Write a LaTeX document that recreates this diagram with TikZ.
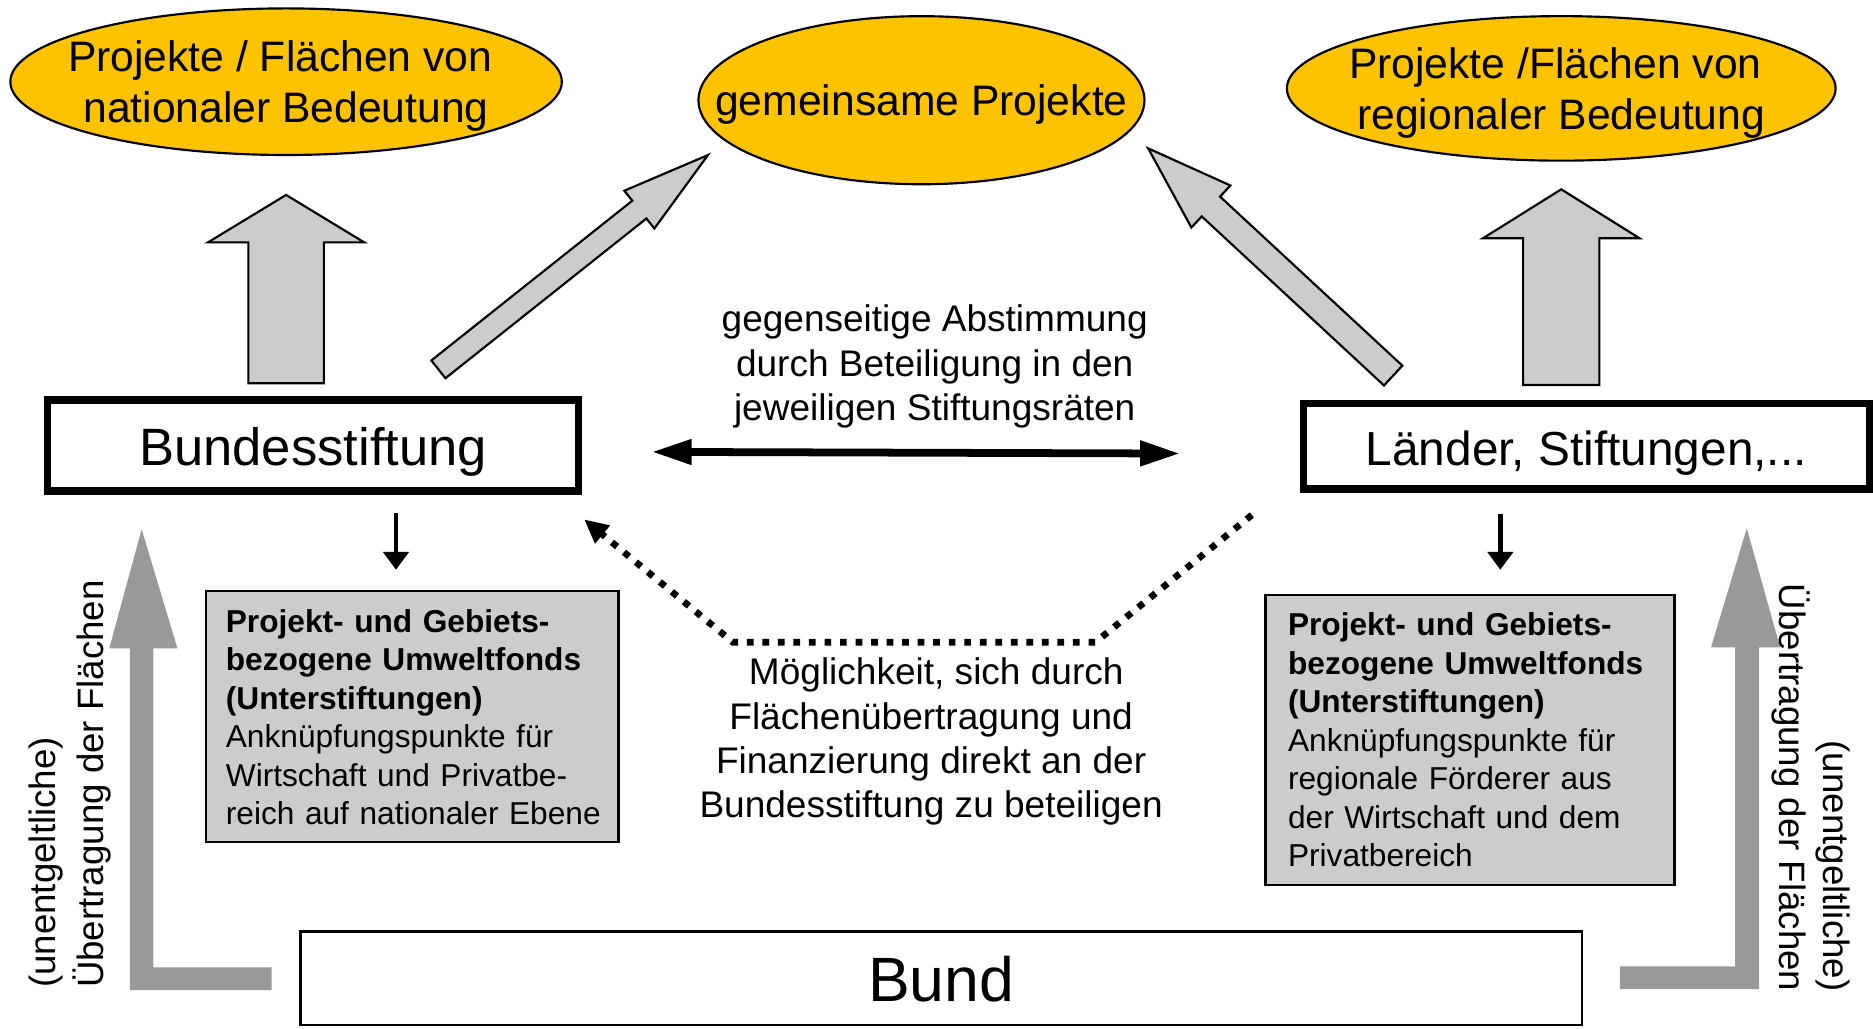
\documentclass[tikz,border=0pt]{standalone}
\usepackage{fontspec}
\setmainfont{Liberation Sans}
\usetikzlibrary{calc,shapes.geometric,arrows.meta}

\definecolor{ellfill}{RGB}{253,194,0}
\definecolor{lightfill}{RGB}{204,204,204}
\definecolor{transfer}{RGB}{153,153,153}

\newcommand\fs[2]{\fontsize{#1}{#2}\selectfont}

% wide outlined arrow from #1 (base) to #2 (tip):
% #3 half shaft width, #4 half head width, #5 head length
\newcommand\blockarrow[5]{%
  \draw[blockarrowstyle]
    ($(#1)!#3!90:(#2)$)
    -- ($($(#2)!#5!(#1)$)!#3!90:(#2)$)
    -- ($($(#2)!#5!(#1)$)!#4!90:(#2)$)
    -- (#2)
    -- ($($(#2)!#5!(#1)$)!#4!-90:(#2)$)
    -- ($($(#2)!#5!(#1)$)!#3!-90:(#2)$)
    -- ($(#1)!#3!-90:(#2)$)
    -- cycle;}

\begin{document}
\begin{tikzpicture}[x=1pt,y=-1pt,
  goal/.style={ellipse, draw=black, line width=1.8pt, fill=ellfill,
    inner xsep=-60pt, inner ysep=-10pt, outer sep=0pt, align=center,
    font=\fs{35.7}{42.9}},
  mainbox/.style={rectangle, draw=black, fill=white, inner sep=0pt, outer sep=0pt},
  fonds/.style={rectangle, draw=black, line width=1.8pt, fill=lightfill,
    inner ysep=0pt, outer sep=0pt, align=left, anchor=north west},
  plain/.style={inner sep=0pt, outer sep=0pt, align=center},
  rotlabel/.style={inner sep=0pt, outer sep=0pt},
  blockarrowstyle/.style={draw=black, line width=1.8pt, fill=lightfill, line join=miter},
  downarrow/.style={line width=4pt, -{Triangle[length=15pt,width=21pt]}},
  mutual/.style={line width=6.5pt,
    {Triangle[length=33.5pt,width=20pt]}-{Triangle[length=33.5pt,width=20pt]}},
  offer/.style={line width=5.6pt, dash pattern=on 5.6pt off 7.4pt,
    -{Triangle[length=20pt,width=18.4pt]}},
]
\fill[white] (0,0) rectangle (1568,861);
\useasboundingbox (0,0) rectangle (1568,861);

% goals
\node[goal, minimum width=461.7pt, minimum height=122.7pt] (nat) at (239.5,68.4)
  {\rule{0pt}{36pt}Projekte / Flächen von\hspace*{.278em}\\nationaler Bedeutung\rule[-9.9pt]{0pt}{0pt}};
\node[goal, minimum width=373.4pt, minimum height=140.7pt] (gem) at (771.4,83.9)
  {\rule{0pt}{36pt}gemeinsame Projekte\rule[-11.2pt]{0pt}{0pt}};
\node[goal, minimum width=459.4pt, minimum height=121pt] (reg) at (1307,74)
  {\rule{0pt}{36pt}Projekte /Flächen von\hspace*{.278em}\\regionaler Bedeutung\rule[-9.9pt]{0pt}{0pt}};

% actors
\node[mainbox, line width=6.5pt, minimum width=444.5pt, minimum height=76.3pt,
  text height=32.6pt, text depth=0pt, font=\fs{44}{52}] (bs) at (262.1,373) {Bundesstiftung};
\node[mainbox, line width=6.2pt, minimum width=473.8pt, minimum height=71.4pt,
  text height=31.2pt, text depth=0pt, font=\fs{40}{48}] (laender) at (1328,373.7) {Länder, Stiftungen,...};
\node[mainbox, line width=2.2pt, minimum width=1073pt, minimum height=78.3pt,
  text height=39.4pt, text depth=0pt, font=\fs{52.4}{62}] (bund) at (787.9,818.9) {Bund};

% funds
\node[fonds, minimum height=210pt, text width=311.7pt, inner xsep=17pt,
  font=\fs{26.5}{32.2}] (fondsL) at (172.1,495.1)
  {\noindent\rule{0pt}{26.5pt}\mbox{\textbf{Projekt- und Gebiets-}}\\\mbox{\textbf{bezogene Umweltfonds}}\\%
   \mbox{\textbf{(Unterstiftungen)}}\\\mbox{Anknüpfungspunkte für}\\\mbox{Wirtschaft und Privatbe-}\\%
   \mbox{reich auf nationaler Ebene}\rule[-6.9pt]{0pt}{0pt}};
\node[fonds, minimum height=243pt, text width=304.6pt, inner xsep=18.9pt,
  font=\fs{26.5}{32.25}] (fondsR) at (1059.4,497.9)
  {\noindent\rule{0pt}{26.5pt}\mbox{\textbf{Projekt- und Gebiets-}}\\\mbox{\textbf{bezogene Umweltfonds}}\\%
   \mbox{\textbf{(Unterstiftungen)}}\\\mbox{Anknüpfungspunkte für}\\\mbox{regionale Förderer aus}\\%
   \mbox{der Wirtschaft und dem}\\\mbox{Privatbereich}\rule[-7.2pt]{0pt}{0pt}};

% wide arrows towards the goals
\coordinate (natBase) at (239.5,320.9);
\coordinate (natHead) at (239.5,163.2);
\coordinate (regBase) at (1307,322.3);
\coordinate (regHead) at (1307,158.5);
\coordinate (jointL) at (367,309.2);
\coordinate (jointLHead) at (592.7,129.8);
\coordinate (jointR) at (1166.3,314.4);
\coordinate (jointRHead) at (961.2,124.2);
\blockarrow{natBase}{natHead}{31.6pt}{65.4pt}{39.7pt}
\blockarrow{regBase}{regHead}{31.9pt}{65.6pt}{41pt}
\blockarrow{jointL}{jointLHead}{9.5pt}{20.2pt}{73.4pt}
\blockarrow{jointR}{jointRHead}{11.3pt}{24pt}{71.6pt}

% actors to their funds
\coordinate (dropL) at (331.5,0);
\coordinate (dropR) at (1256,0);
\draw[downarrow, shorten <=17.9pt, shorten >=18.1pt] (bs.south -| dropL) -- (fondsL.north -| dropL);
\draw[downarrow, shorten <=20.6pt, shorten >=20.9pt] (laender.south -| dropR) -- (fondsR.north -| dropR);

% mutual coordination
\draw[mutual, shorten <=61.2pt, shorten >=103.1pt]
  ([yshift=-5.1pt]bs.east) -- ([yshift=-6.3pt]laender.west);
\node[plain, anchor=north, font=\fs{31}{37.3}] (abst) at (782.5,246.7)
  {\rule{0pt}{31pt}gegenseitige Abstimmung\\durch Beteiligung in den\\jeweiligen Stiftungsräten};

% direct participation
\coordinate (offerStart) at (1048,431.1);
\coordinate (offerR) at (917.1,537.6);
\coordinate (offerL) at (613.5,537.6);
\coordinate (offerEnd) at (489,434.8);
\draw[offer] (offerStart) -- (offerR) -- (offerL) -- (offerEnd);
\node[plain, anchor=north, font=\fs{31}{37.1}] (moegl) at (779.5,542.3)
  {\rule{0pt}{31pt}\hspace*{.278em}Möglichkeit, sich durch\\Flächenübertragung und\\Finanzierung direkt an der\\Bundesstiftung zu beteiligen};

% transfer of land from the Bund
\fill[transfer] (227.4,809.8) -- (128.4,809.8) -- (128.4,542.7) -- (148.5,542.7)
  -- (118.6,443.1) -- (91.5,542.7) -- (108.8,542.7) -- (108.8,828.8) -- (227.4,828.8) -- cycle;
\fill[transfer] (1356,809) -- (1452.5,809) -- (1452.5,541.9) -- (1432.4,541.9)
  -- (1462.3,442.3) -- (1490.2,541.9) -- (1472.6,541.9) -- (1472.6,828) -- (1356,828) -- cycle;
\node[rotlabel, rotate=90, anchor=north west, align=left, font=\fs{30.7}{40.5}] (transferL) at (15.8,827)
  {\rule{0pt}{30.7pt}(unentgeltliche)\\Übertragung der Flächen};
\node[rotlabel, rotate=-90, anchor=north east, align=right, font=\fs{30.7}{37}] (transferR) at (1557.2,830)
  {\rule{0pt}{30.7pt}(unentgeltliche)\\Übertragung der Flächen};
\end{tikzpicture}
\end{document}
